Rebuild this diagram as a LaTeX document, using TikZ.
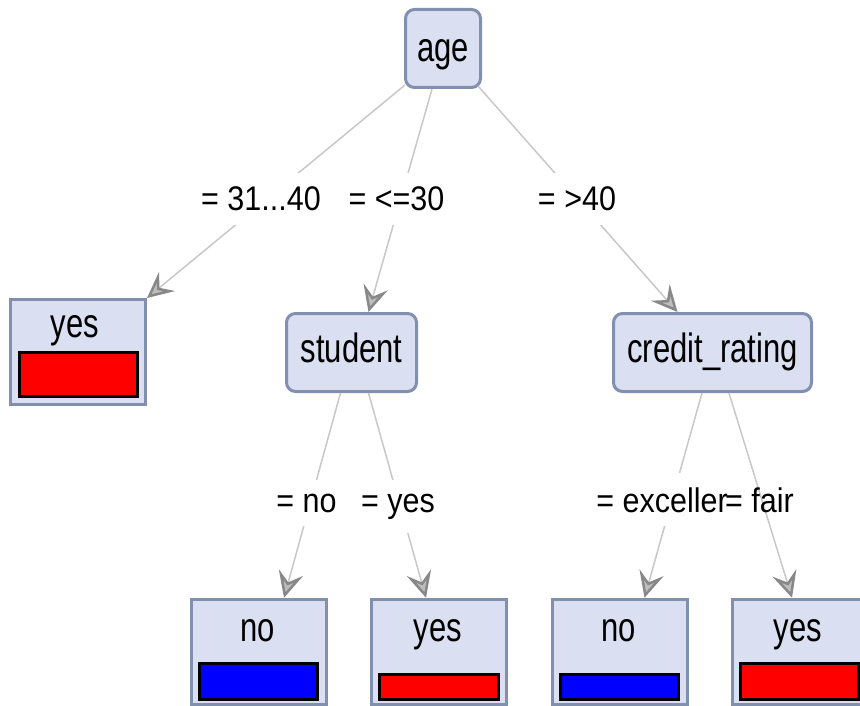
\documentclass[tikz,border=0pt]{standalone}
\usepackage{fontspec}
\usepackage{graphicx}
\setmainfont{Liberation Sans}
\usetikzlibrary{arrows.meta}

\definecolor{boxfill}{RGB}{218,224,241}
\definecolor{boxline}{RGB}{130,144,175}
\definecolor{edgegray}{RGB}{200,200,200}
\definecolor{tipgray}{RGB}{136,136,136}
\definecolor{tipfill}{RGB}{190,190,190}

% node titles and edge labels are set slightly stretched vertically
\newcommand{\tallnode}[1]{\scalebox{1}[1.32]{#1}}
\newcommand{\talledge}[1]{\scalebox{1}[1.12]{#1}}

\begin{document}
\begin{tikzpicture}[x=1pt,y=-1pt,
  split/.style={draw=boxline, fill=boxfill, line width=3pt, rounded corners=9pt, inner sep=0pt},
  leaf/.style={draw=boxline, fill=boxfill, line width=3pt, inner sep=0pt,
               minimum width=135pt, minimum height=105pt},
  title/.style={font=\fontsize{31}{31}\selectfont, inner sep=0pt, anchor=base},
  lbl/.style={font=\fontsize{30.5}{30.5}\selectfont, fill=white, inner xsep=1pt, inner ysep=14pt, anchor=base},
  edge/.style={draw=edgegray, line width=1.5pt,
               -{Stealth[length=26pt,width=25pt,inset=10pt,line width=2.5pt,color=tipgray,fill=tipfill]}},
  yesbar/.style={draw=black, fill=red, line width=3pt},
  nobar/.style={draw=black, fill=blue, line width=3pt}]

\clip (0,0) rectangle (860,706);
\fill[white] (0,0) rectangle (860,706);

% decision nodes
\node[split, minimum width=75pt, minimum height=78pt] (age) at (443,48.5) {};
\node[split, minimum width=130pt, minimum height=78pt] (student) at (351.5,352.5) {};
\node[split, minimum width=198pt, minimum height=78pt] (credit) at (712.5,352.5) {};
\node[title] (tage) at (443,62) {\tallnode{age}};
\node[title] (tstudent) at (351.5,362) {\tallnode{student}};
\node[title] (tcredit) at (712.5,362) {\tallnode{credit\_rating}};

% leaves
\node[leaf] (yesA) at (78,352) {};
\node[leaf, minimum height=105.5pt] (noB) at (259,652) {};
\node[leaf, minimum height=105.5pt] (yesC) at (439,652) {};
\node[leaf, minimum height=105.5pt] (noD) at (619.5,652) {};
\node[leaf, minimum height=105.5pt] (yesE) at (800,652) {};

\node[title] (tyesA) at (75,337) {\tallnode{yes}};
\node[title] (tnoB) at (258,641) {\tallnode{no}};
\node[title] (tyesC) at (438,641) {\tallnode{yes}};
\node[title] (tnoD) at (618.5,641) {\tallnode{no}};
\node[title] (tyesE) at (798,641) {\tallnode{yes}};

% class distribution bars
\draw[yesbar] (19.5,352.5) rectangle (137.5,396.5);
\draw[nobar] (199.5,663.5) rectangle (317.5,699.5);
\draw[yesbar] (379.5,674.5) rectangle (498.5,699.5);
\draw[nobar] (560.5,674.5) rectangle (678.5,699.5);
\draw[yesbar] (740.5,663.5) rectangle (858.5,699.5);

% branches
\draw[edge] ([xshift=-38pt,yshift=4pt]age.south) -- (yesA.north east);
\draw[edge] ([xshift=-11pt]age.south) -- ([xshift=17pt]student.north);
\draw[edge] ([xshift=35pt,yshift=3pt]age.south) -- ([xshift=-35pt]credit.north);
\draw[edge] ([xshift=-11pt]student.south) -- ([xshift=25pt]noB.north);
\draw[edge] ([xshift=17pt]student.south) -- ([xshift=-13pt]yesC.north);
\draw[edge] ([xshift=-10.5pt]credit.south) -- ([xshift=25pt]noD.north);
\draw[edge] ([xshift=16.5pt]credit.south) -- ([xshift=-8pt]yesE.north);

% branch labels
\node[lbl] (l1) at (261,211) {\talledge{= 31...40}};
\node[lbl] (l2) at (396.5,211) {\talledge{= <=30}};
\node[lbl] (l3) at (577,211) {\talledge{= >40}};
\node[lbl] (l4) at (306.5,512) {\talledge{= no}};
\node[lbl] (l5) at (398,512) {\talledge{= yes}};
\node[lbl, anchor=base east] (l6) at (729,512) {\talledge{= exceller}};
\node[lbl, anchor=base west, fill=none] (l7) at (724,512) {\talledge{= fair}};
\end{tikzpicture}
\end{document}
